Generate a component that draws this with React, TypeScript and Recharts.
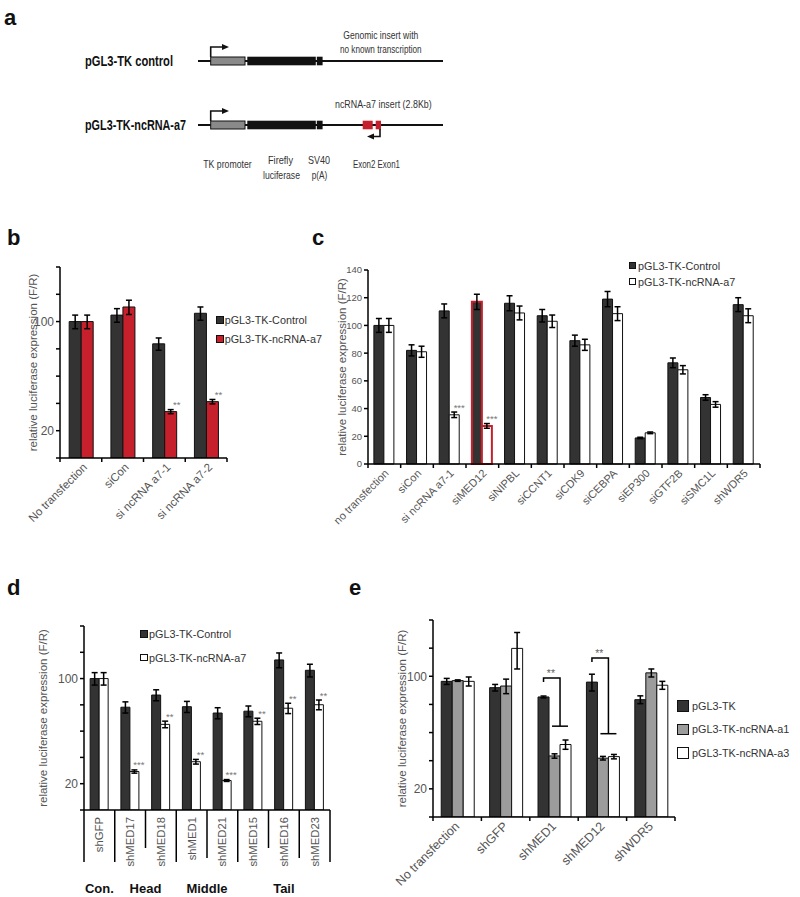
import React from "react";
import { Bar, BarChart, Cell, ErrorBar, LabelList, Legend, XAxis, YAxis } from "recharts";

const FONT = '"Liberation Sans", Arial, Helvetica, sans-serif';
const DARK = "#333333";
const RED = "#c6202c";
const GREY = "#9c9c9c";
const TEXT = "#555555";
const Y_LABEL = "relative luciferase expression (F/R)";

// log axis shared by b, d, e (Excel style, 4 minor steps from 20 to 100)
const logTicks = [13.37, 20, 29.91, 44.72, 66.87, 100, 149.5, 223.6];
const logLabels = ["20", "100"];
const LOG_MIN = logTicks[0];
const LOG_MAX = logTicks[logTicks.length - 1];

// panel b
const bCategories = ["No transfection", "siCon", "si ncRNA a7-1", "si ncRNA a7-2"];
const bSeries = ["pGL3-TK-Control", "pGL3-TK-ncRNA-a7"];
const bControl = [100, 110, 72, 113];
const bControlErr = [10, 11, 6.5, 11];
const bA7 = [100, 124, 26.5, 30.7];
const bA7Err = [10, 13, 0.8, 1];
const bStars = ["", "", "**", "**"];

// panel c
const cCategories = [
  "no transfection", "siCon", "si ncRNA a7-1", "siMED12", "siNIPBL", "siCCNT1",
  "siCDK9", "siCEBPA", "siEP300", "siGTF2B", "siSMC1L", "shWDR5",
];
const cSeries = ["pGL3-TK-Control", "pGL3-TK-ncRNA-a7"];
const cControl = [100, 82, 110.5, 117, 116, 107, 89, 119, 18.8, 73, 48, 115];
const cControlErr = [5, 4, 5, 5.5, 5.4, 4.5, 4, 5.5, 0.5, 3.5, 2, 5];
const cA7 = [100, 81, 35.5, 27.5, 109, 103, 86, 108.5, 22.5, 68, 43, 107];
const cA7Err = [5, 4, 2, 1.7, 5, 4.5, 4, 5, 0.6, 3, 2, 5];
const cStars = ["", "", "***", "***", "", "", "", "", "", "", "", ""];
const cHighlighted = ["siMED12"];
const cTicks = [0, 20, 40, 60, 80, 100, 120, 140];

// panel d
const dCategories = ["shGFP", "shMED17", "shMED18", "shMED1", "shMED21", "shMED15", "shMED16", "shMED23"];
const dSeries = ["pGL3-TK-Control", "pGL3-TK-ncRNA-a7"];
const dControl = [100, 64.5, 77.7, 65, 59, 60.7, 133, 113.5];
const dControlErr = [9.5, 5.5, 6.5, 5.5, 5, 5, 15, 11];
const dA7 = [100, 24.1, 49.6, 28, 21, 52, 63.5, 67];
const dA7Err = [9.5, 0.6, 2.5, 1, 0.3, 2.5, 5, 5];
const dStars = ["", "***", "**", "**", "***", "**", "**", "**"];
const dGroups = [
  { label: "Con.", members: ["shGFP"] },
  { label: "Head", members: ["shMED17", "shMED18"] },
  { label: "Middle", members: ["shMED1", "shMED21"] },
  { label: "Tail", members: ["shMED15", "shMED16", "shMED23"] },
];
const dSeparatorDepth = [52, 52, 38, 52, 48, 52, 38, 48, 52];

// panel e
const eCategories = ["No transfection", "shGFP", "shMED1", "shMED12", "shWDR5"];
const eSeries = ["pGL3-TK", "pGL3-TK-ncRNA-a1", "pGL3-TK-ncRNA-a3"];
const eTK = [93, 85, 74.4, 92, 71.6];
const eTKErr = [4, 4, 1, 11, 4];
const eA1 = [94, 87, 32, 31, 105];
const eA1Err = [1, 9, 1, 0.8, 6];
const eA3 = [93, 149, 37.7, 31.7, 88];
const eA3Err = [6, 38, 2.5, 1, 5];
const eBrackets = [
  { category: "shMED1", top: 97.6, bottom: 49, mark: "**" },
  { category: "shMED12", top: 130, bottom: 44, mark: "**" },
];

const bRows = bCategories.map((name, i) => ({
  name, ctrl: bControl[i], ctrlErr: bControlErr[i], a7: bA7[i], a7Err: bA7Err[i], star: bStars[i],
}));
const cRows = cCategories.map((name, i) => ({
  name, ctrl: cControl[i], ctrlErr: cControlErr[i], a7: cA7[i], a7Err: cA7Err[i], star: cStars[i],
}));
const dRows = dCategories.map((name, i) => ({
  name, ctrl: dControl[i], ctrlErr: dControlErr[i], a7: dA7[i], a7Err: dA7Err[i], star: dStars[i],
}));
const eRows = eCategories.map((name, i) => ({
  name, tk: eTK[i], tkErr: eTKErr[i], a1: eA1[i], a1Err: eA1Err[i], a3: eA3[i], a3Err: eA3Err[i],
}));

const logFormat = (v: number) => {
  const s = String(Math.round(v));
  return logLabels.includes(s) ? s : "";
};

// pixel of value v, worked back from a drawn bar (base at domain min)
function valueToY(vb: any, barValue: number, v: number, log: boolean, lo: number) {
  const base = vb.y + vb.height;
  const f = log ? (x: number) => Math.log10(x / lo) : (x: number) => x - lo;
  const k = vb.height / f(barValue);
  return base - f(v) * k;
}

function starLabel(rows: any[], key: string, errKey: string, log: boolean, lo: number) {
  return (props: any) => {
    const row = rows[props.index];
    if (!row || !row.star) return null;
    const vb = props.viewBox ?? props;
    const top = valueToY(vb, row[key], row[key] + row[errKey], log, lo);
    return (
      <text x={vb.x + vb.width} y={top - 1.5} textAnchor="middle" fontSize={9.5} fill="#777" fontFamily={FONT}>
        {row.star}
      </text>
    );
  };
}

function bracketLabel(props: any) {
  const name = eCategories[props.index];
  const b = eBrackets.find((it) => it.category === name);
  if (!b) return null;
  const vb = props.viewBox ?? props;
  const yOf = (v: number) => valueToY(vb, eTK[props.index], v, true, LOG_MIN);
  const x1 = vb.x + vb.width / 2;
  const x2 = vb.x + vb.width * 2;
  const yTop = yOf(b.top);
  const yBot = yOf(b.bottom);
  return (
    <g>
      <path d={`M${x1} ${yTop + 4} V${yTop} H${x2} V${yBot}`} stroke="#000" strokeWidth={1.5} fill="none" />
      <line x1={x2 - 8} x2={x2 + 8} y1={yBot} y2={yBot} stroke="#000" strokeWidth={1.5} />
      <text x={x1 + (x2 - x1) * 0.45} y={yTop - 1} textAnchor="middle" fontSize={10.5} fill="#666" fontFamily={FONT}>
        {b.mark}
      </text>
    </g>
  );
}

function makeSlantTick(count: number, halfBand: number, dx: number, dy: number, fontSize: number) {
  return (props: any) => {
    const { x, y, payload, index } = props;
    const half = payload?.offset || halfBand;
    const tx = x + dx;
    const ty = y + dy;
    return (
      <g>
        <line x1={x - half} x2={x - half} y1={y} y2={y + 4} stroke="#000" strokeWidth={1.5} />
        {index === count - 1 && (
          <line x1={x + half} x2={x + half} y1={y} y2={y + 4} stroke="#000" strokeWidth={1.5} />
        )}
        <text
          x={tx}
          y={ty}
          transform={`rotate(-45 ${tx} ${ty})`}
          textAnchor="end"
          fontSize={fontSize}
          fill={TEXT}
          fontFamily={FONT}
        >
          {payload.value}
        </text>
      </g>
    );
  };
}

function makeTableTick(halfBand: number) {
  return (props: any) => {
    const { x, y, payload, index } = props;
    const half = payload?.offset || halfBand;
    const left = x - half;
    const group = dGroups.find((g) => g.members[0] === payload.value);
    const last = index === dCategories.length - 1;
    return (
      <g>
        <line x1={left} x2={left} y1={y} y2={y + dSeparatorDepth[index]} stroke="#000" strokeWidth={1.5} />
        {last && (
          <line
            x1={x + half}
            x2={x + half}
            y1={y}
            y2={y + dSeparatorDepth[index + 1]}
            stroke="#000"
            strokeWidth={1.5}
          />
        )}
        <text
          x={x + 4}
          y={y + 7}
          transform={`rotate(-90 ${x + 4} ${y + 7})`}
          textAnchor="end"
          fontSize={11.3}
          fill={TEXT}
          fontFamily={FONT}
        >
          {payload.value}
        </text>
        {group && (
          <text
            x={left + group.members.length * half}
            y={y + 83}
            textAnchor="middle"
            fontSize={13}
            fontWeight="bold"
            fill="#111"
            fontFamily={FONT}
          >
            {group.label}
          </text>
        )}
      </g>
    );
  };
}

type LegendItem = { name: string; fill: string };

function legendContent(items: LegendItem[], box: number, row: number, gap: number) {
  return () => (
    <div style={{ fontFamily: FONT, fontSize: 10.8, color: "#333" }}>
      {items.map((it) => (
        <div key={it.name} style={{ display: "flex", alignItems: "center", height: row, whiteSpace: "nowrap" }}>
          <span
            style={{
              display: "inline-block",
              width: box,
              height: box,
              background: it.fill,
              border: "1px solid #111",
              boxSizing: "border-box",
              marginRight: gap,
            }}
          />
          {it.name}
        </div>
      ))}
    </div>
  );
}

const yAxisCommon = {
  stroke: "#000",
  strokeWidth: 1.5,
  tickSize: 4,
  tick: { fill: TEXT, fontSize: 12, fontFamily: FONT },
  interval: 0 as const,
};

const errProps = { stroke: "#000", strokeWidth: 1.5, width: 3, direction: "y" as const, isAnimationActive: false };

function yLabel(offset: number) {
  return {
    value: Y_LABEL,
    angle: -90,
    position: "insideLeft" as const,
    offset,
    fill: TEXT,
    fontSize: 11.5,
    style: { textAnchor: "middle" as const },
  };
}

function PanelB() {
  return (
    <BarChart width={330} height={290} data={bRows} margin={{ top: 17, right: 103, bottom: 0, left: 0 }} barCategoryGap="22%" barGap={0}>
      <XAxis
        dataKey="name"
        height={82}
        interval={0}
        tickLine={false}
        tickSize={0}
        tickMargin={0}
        stroke="#000"
        strokeWidth={1.5}
        tick={makeSlantTick(bCategories.length, 167 / 8, 7, 10, 11.5)}
      />
      <YAxis
        {...yAxisCommon}
        width={60}
        scale="log"
        domain={[LOG_MIN, LOG_MAX]}
        allowDataOverflow
        ticks={logTicks}
        tickFormatter={logFormat}
        label={yLabel(33)}
      />
      <Legend
        layout="horizontal"
        verticalAlign="middle"
        align="center"
        wrapperStyle={{ left: 215.7, top: 60.2, width: "auto" }}
        content={legendContent(
          [
            { name: bSeries[0], fill: DARK },
            { name: bSeries[1], fill: RED },
          ],
          8,
          19.5,
          1
        )}
      />
      <Bar dataKey="ctrl" name={bSeries[0]} fill={DARK} stroke="#111" strokeWidth={1} isAnimationActive={false}>
        <ErrorBar dataKey="ctrlErr" {...errProps} />
      </Bar>
      <Bar dataKey="a7" name={bSeries[1]} fill={RED} stroke="#111" strokeWidth={1} isAnimationActive={false}>
        <ErrorBar dataKey="a7Err" {...errProps} />
        <LabelList dataKey="star" content={starLabel(bRows, "a7", "a7Err", true, LOG_MIN)} />
      </Bar>
    </BarChart>
  );
}

function PanelC() {
  const edge = (i: number) => (cHighlighted.includes(cCategories[i]) ? RED : "#111");
  const edgeW = (i: number) => (cHighlighted.includes(cCategories[i]) ? 2 : 1);
  return (
    <BarChart width={520} height={300} data={cRows} margin={{ top: 20, right: 40, bottom: 0, left: 0 }} barCategoryGap="18%" barGap={0}>
      <XAxis
        dataKey="name"
        height={86}
        interval={0}
        tickLine={false}
        tickSize={0}
        tickMargin={0}
        stroke="#000"
        strokeWidth={1.5}
        tick={makeSlantTick(cCategories.length, 392 / 24, 5, 10, 11)}
      />
      <YAxis
        {...yAxisCommon}
        width={88}
        domain={[0, 140]}
        ticks={cTicks}
        tick={{ fill: TEXT, fontSize: 9.5, fontFamily: FONT }}
        label={yLabel(62)}
      />
      <Legend
        layout="horizontal"
        verticalAlign="middle"
        align="center"
        wrapperStyle={{ left: 349, top: 7.5, width: "auto" }}
        content={legendContent(
          [
            { name: cSeries[0], fill: DARK },
            { name: cSeries[1], fill: "#fff" },
          ],
          7,
          16,
          2
        )}
      />
      <Bar dataKey="ctrl" name={cSeries[0]} fill={DARK} isAnimationActive={false}>
        {cRows.map((r, i) => (
          <Cell key={r.name} stroke={edge(i)} strokeWidth={edgeW(i)} />
        ))}
        <ErrorBar dataKey="ctrlErr" {...errProps} />
      </Bar>
      <Bar dataKey="a7" name={cSeries[1]} fill="#fff" isAnimationActive={false}>
        {cRows.map((r, i) => (
          <Cell key={r.name} stroke={edge(i)} strokeWidth={edgeW(i)} />
        ))}
        <ErrorBar dataKey="a7Err" {...errProps} />
        <LabelList dataKey="star" content={starLabel(cRows, "a7", "a7Err", false, 0)} />
      </Bar>
    </BarChart>
  );
}

function PanelD() {
  return (
    <BarChart width={400} height={297} data={dRows} margin={{ top: 26, right: 70, bottom: 0, left: 0 }} barCategoryGap="20%" barGap={0}>
      <XAxis
        dataKey="name"
        height={87}
        interval={0}
        tickLine={false}
        tickSize={0}
        tickMargin={0}
        stroke="#000"
        strokeWidth={1.5}
        tick={makeTableTick(246 / 16)}
      />
      <YAxis
        {...yAxisCommon}
        width={84}
        scale="log"
        domain={[LOG_MIN, LOG_MAX]}
        allowDataOverflow
        ticks={logTicks}
        tickFormatter={logFormat}
        label={yLabel(43)}
      />
      <Legend
        layout="horizontal"
        verticalAlign="middle"
        align="center"
        wrapperStyle={{ left: 140, top: 22.2, width: "auto" }}
        content={legendContent(
          [
            { name: dSeries[0], fill: DARK },
            { name: dSeries[1], fill: "#fff" },
          ],
          7.5,
          23.7,
          1.5
        )}
      />
      <Bar dataKey="ctrl" name={dSeries[0]} fill={DARK} stroke="#111" strokeWidth={1} isAnimationActive={false}>
        <ErrorBar dataKey="ctrlErr" {...errProps} />
      </Bar>
      <Bar dataKey="a7" name={dSeries[1]} fill="#fff" stroke="#111" strokeWidth={1} isAnimationActive={false}>
        <ErrorBar dataKey="a7Err" {...errProps} />
        <LabelList dataKey="star" content={starLabel(dRows, "a7", "a7Err", true, LOG_MIN)} />
      </Bar>
    </BarChart>
  );
}

function PanelE() {
  return (
    <BarChart width={420} height={297} data={eRows} margin={{ top: 20, right: 125, bottom: 0, left: 0 }} barCategoryGap="17%" barGap={0}>
      <XAxis
        dataKey="name"
        height={80}
        interval={0}
        tickLine={false}
        tickSize={0}
        tickMargin={0}
        stroke="#000"
        strokeWidth={1.5}
        tick={makeSlantTick(eCategories.length, 242 / 10, 3, 10, 12.5)}
      />
      <YAxis
        {...yAxisCommon}
        width={53}
        scale="log"
        domain={[LOG_MIN, LOG_MAX]}
        allowDataOverflow
        ticks={logTicks}
        tickFormatter={logFormat}
        label={yLabel(22)}
      />
      <Legend
        layout="horizontal"
        verticalAlign="middle"
        align="center"
        wrapperStyle={{ left: 297, top: 94.2, width: "auto" }}
        content={legendContent(
          [
            { name: eSeries[0], fill: DARK },
            { name: eSeries[1], fill: GREY },
            { name: eSeries[2], fill: "#fff" },
          ],
          11.5,
          23.5,
          3.5
        )}
      />
      <Bar dataKey="tk" name={eSeries[0]} fill={DARK} stroke="#111" strokeWidth={1} isAnimationActive={false}>
        <ErrorBar dataKey="tkErr" {...errProps} />
        <LabelList dataKey="tk" content={bracketLabel} />
      </Bar>
      <Bar dataKey="a1" name={eSeries[1]} fill={GREY} stroke="#111" strokeWidth={1} isAnimationActive={false}>
        <ErrorBar dataKey="a1Err" {...errProps} />
      </Bar>
      <Bar dataKey="a3" name={eSeries[2]} fill="#fff" stroke="#111" strokeWidth={1} isAnimationActive={false}>
        <ErrorBar dataKey="a3Err" {...errProps} />
      </Bar>
    </BarChart>
  );
}

// panel a: plasmid maps (schematic, not data)
function ConstructRow({ y, name, nameWidth, insert }: { y: number; name: string; nameWidth: number; insert: boolean }) {
  return (
    <g>
      <text x={85} y={y + 5} fontSize={14.5} fontWeight="bold" fill="#111" textLength={nameWidth} lengthAdjust="spacingAndGlyphs">
        {name}
      </text>
      <line x1={198} x2={443} y1={y} y2={y} stroke="#111" strokeWidth={2} />
      <rect x={210.7} y={y - 4} width={34.3} height={8} fill="#8a8a8a" stroke="#111" strokeWidth={1} />
      <rect x={247.3} y={y - 4.3} width={68.5} height={8.6} fill="#111" />
      <rect x={316.8} y={y - 4.3} width={5.8} height={8.6} fill="#111" />
      <path d={`M210.7 ${y - 4} V${y - 14} H223`} stroke="#111" strokeWidth={1.6} fill="none" />
      <path d={`M222 ${y - 17} L229 ${y - 14} L222 ${y - 11} Z`} fill="#111" />
      {insert && (
        <g>
          <rect x={362.7} y={y - 4.3} width={10} height={8.6} fill={RED} />
          <rect x={375.7} y={y - 4.3} width={5.3} height={8.6} fill={RED} />
          <path d={`M380 ${y + 4} V${y + 11.5} H373`} stroke="#111" strokeWidth={1.6} fill="none" />
          <path d={`M374 ${y + 8.5} L367 ${y + 11.5} L374 ${y + 14.5} Z`} fill="#111" />
        </g>
      )}
    </g>
  );
}

function PanelA() {
  const t = { fontSize: 11.5, fill: "#333", lengthAdjust: "spacingAndGlyphs" as const };
  return (
    <g fontFamily={FONT}>
      <ConstructRow y={61} name="pGL3-TK control" nameWidth={88} insert={false} />
      <ConstructRow y={125} name="pGL3-TK-ncRNA-a7" nameWidth={101} insert />
      <text {...t} x={380.8} y={38.5} textAnchor="middle" textLength={75}>Genomic insert with</text>
      <text {...t} x={380.8} y={52.5} textAnchor="middle" textLength={81.7}>no known transcription</text>
      <text {...t} x={335} y={108} textLength={96.7}>ncRNA-a7 insert (2.8Kb)</text>
      <text {...t} x={203.3} y={167.5} textLength={48.4}>TK promoter</text>
      <text {...t} x={268} y={163.5} textLength={25}>Firefly</text>
      <text {...t} x={263} y={179} textLength={37}>luciferase</text>
      <text {...t} x={308} y={163.5} textLength={22}>SV40</text>
      <text {...t} x={311.7} y={179} textLength={15.6}>p(A)</text>
      <text {...t} x={353} y={167.5} textLength={47}>Exon2 Exon1</text>
    </g>
  );
}

const panelLetters = [
  { id: "a", x: 4, y: 25 },
  { id: "b", x: 7, y: 245 },
  { id: "c", x: 312, y: 245 },
  { id: "d", x: 7, y: 595 },
  { id: "e", x: 349, y: 595 },
];

export default function App() {
  return (
    <div
      style={{
        position: "absolute",
        left: 0,
        top: 0,
        width: 800,
        height: 897,
        background: "#fff",
        fontFamily: FONT,
        overflow: "hidden",
      }}
    >
      <svg width={800} height={897} style={{ position: "absolute", left: 0, top: 0 }}>
        <PanelA />
        {panelLetters.map((p) => (
          <text key={p.id} x={p.x} y={p.y} fontSize={22} fontWeight="bold" fill="#111" fontFamily={FONT}>
            {p.id}
          </text>
        ))}
      </svg>
      <div style={{ position: "absolute", left: 0, top: 250 }}>
        <PanelB />
      </div>
      <div style={{ position: "absolute", left: 280, top: 250 }}>
        <PanelC />
      </div>
      <div style={{ position: "absolute", left: 0, top: 600 }}>
        <PanelD />
      </div>
      <div style={{ position: "absolute", left: 380, top: 600 }}>
        <PanelE />
      </div>
    </div>
  );
}
